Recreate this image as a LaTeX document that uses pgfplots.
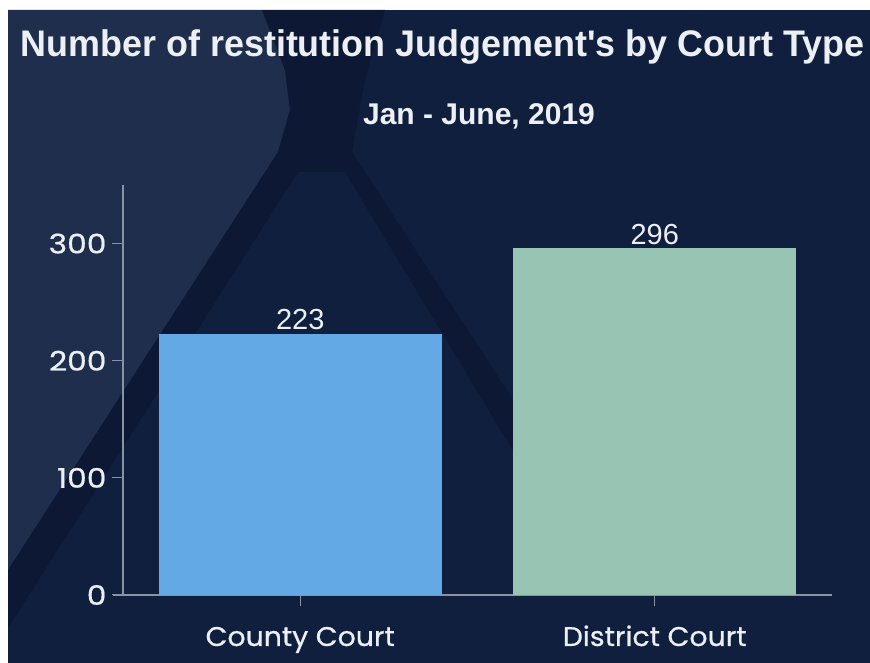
\documentclass[border=0pt]{standalone}
\usepackage{fontspec}
\setmainfont{Liberation Sans}
\newfontfamily\pop[FakeStretch=1.05,FakeBold=0.6]{Poppins}
\newfontfamily\popn[FakeStretch=1.16,FakeBold=0.6]{Poppins}
\usepackage{pgfplots}
\pgfplotsset{compat=1.18}
\definecolor{bg}{HTML}{111F3E}
\definecolor{bgl}{HTML}{1F2E4D}
\definecolor{bgd}{HTML}{0D1934}
\definecolor{cblue}{HTML}{63A9E6}
\definecolor{cgreen}{HTML}{98C5B3}
\definecolor{axc}{HTML}{8A93A5}
\definecolor{txt}{HTML}{ECEFF4}
\begin{document}
\begin{tikzpicture}[x=1pt,y=1pt]
\useasboundingbox (0,0) rectangle (870,663);
\fill[white] (0,0) rectangle (870,663);
\fill[bg] (8,0) rectangle (870,653);
% lighter left region
\fill[bgl] (8,653) -- (262,653) -- (285,593) -- (290,553) -- (278,511) -- (8,93) -- cycle;
% dark hourglass band
\fill[bgd] (262,653) -- (385,653) -- (365,583) -- (352,511) -- (640,68) -- (600,68) -- (345,491) -- (298,491) -- (8,35) -- (8,93) -- (278,511) -- (290,553) -- (285,593) -- cycle;
\node[txt,font=\bfseries\fontsize{37}{42}\selectfont,anchor=base] at (442.5,606) {\scalebox{0.97}[1]{Number of restitution Judgement\textquotesingle s by Court Type}};
\node[txt,font=\bfseries\fontsize{30}{34}\selectfont,anchor=base] at (479,538) {Jan - June, 2019};
\begin{axis}[
  at={(123pt,68pt)}, anchor=south west,
  scale only axis, width=709pt, height=410pt,
  xmin=-0.5, xmax=1.5, ymin=0, ymax=350,
  axis x line*=bottom, axis y line*=left,
  axis line style={axc, line width=1.2pt},
  x axis line style={-, shorten <=-10pt},
  y axis line style={-},
  xtick={0,1}, xticklabels={County Court, District Court},
  ytick={0,100,200,300},
  tick align=outside, major tick length=11pt,
  tick style={axc, line width=1pt},
  /pgf/number format/assume math mode=true,
  yticklabel style={txt, font=\popn\fontsize{27}{30}\selectfont, xshift=-2pt},
  xticklabel style={txt, font=\pop\fontsize{27}{30}\selectfont, anchor=base, yshift=-40pt},
  ybar, bar width=283pt, bar shift=0pt,
  nodes near coords,
  every node near coord/.append style={txt, font=\fontsize{29}{32}\selectfont},
]
\addplot[fill=cblue, draw=none] coordinates {(0,223)};
\addplot[fill=cgreen, draw=none] coordinates {(1,296)};
\end{axis}
\end{tikzpicture}
\end{document}
